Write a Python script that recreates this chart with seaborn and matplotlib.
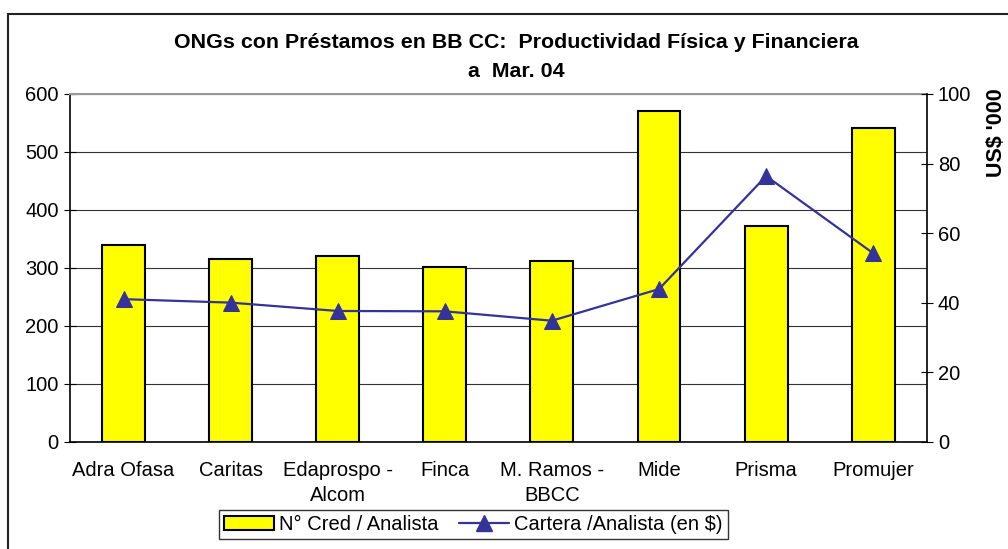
import numpy as np
import pandas as pd
import matplotlib.pyplot as plt
import seaborn as sns
from matplotlib.patches import Patch, Rectangle
from matplotlib.lines import Line2D

sns.set_style('white')
plt.rcParams['font.family'] = ['Liberation Sans', 'DejaVu Sans']
plt.rcParams['text.color'] = 'black'
plt.rcParams['xtick.color'] = 'black'
plt.rcParams['ytick.color'] = 'black'

# data
ongs = ['Adra Ofasa', 'Caritas', 'Edaprospo -\nAlcom', 'Finca', 'M. Ramos -\nBBCC',
        'Mide', 'Prisma', 'Promujer']
cred_analista = [340, 315, 321, 302, 311, 571, 372, 541]
cartera_analista = [41.0, 40.0, 37.6, 37.5, 34.8, 43.9, 76.4, 54.2]

df = pd.DataFrame({'ong': ongs, 'cred': cred_analista, 'cartera': cartera_analista})

fs = 14.5

fig = plt.figure(figsize=(10.08, 5.49), dpi=100)
ax = fig.add_axes([0.0694, 0.1954, 0.85, 0.6334])

sns.barplot(data=df, x='ong', y='cred', color='#FFFF00', width=0.4,
            edgecolor='black', linewidth=1.5, saturation=1, ax=ax, zorder=3)
ax.set_ylim(0, 600)
ax.set_xlim(-0.5, len(ongs) - 0.5)
ax.set_yticks(np.arange(0, 601, 100))
ax.yaxis.grid(True, color='#333333', linewidth=0.8)
ax.set_axisbelow(True)

# ticks at category boundaries, labels centred
ax.set_xticks(np.arange(-0.5, len(ongs), 1))
ax.set_xticklabels([])
ax.set_xticks(np.arange(len(ongs)), minor=True)
ax.set_xticklabels(ongs, minor=True, fontsize=fs, linespacing=1.4)
ax.tick_params(axis='x', which='minor', length=0, pad=14)
ax.tick_params(axis='x', which='major', direction='inout', length=8, width=0.8)
ax.tick_params(axis='y', direction='inout', length=8, width=0.8, labelsize=fs, pad=4)
ax.set_xlabel('')
ax.set_ylabel('')

for s in ['left', 'bottom']:
    ax.spines[s].set_color('black')
    ax.spines[s].set_linewidth(1.2)
ax.spines['top'].set_color('#999999')
ax.spines['top'].set_linewidth(1.5)
ax.spines['right'].set_visible(False)

ax2 = ax.twinx()
sns.lineplot(x=np.arange(len(ongs)), y=df['cartera'], ax=ax2, color='#333399',
             linewidth=1.6, marker='^', markersize=11, markeredgecolor='#333399', zorder=4)
ax2.set_ylim(0, 100)
ax2.set_yticks(np.arange(0, 101, 20))
ax2.tick_params(axis='y', direction='inout', length=8, width=0.8, labelsize=fs, pad=4)
ax2.set_ylabel('')
for s in ['left', 'top', 'bottom']:
    ax2.spines[s].set_visible(False)
ax2.spines['right'].set_color('black')
ax2.spines['right'].set_linewidth(1.2)

fig.text(0.9888, 0.7577, "US$ '000", rotation=90, ha='center', va='center',
         fontsize=15.5, fontweight='bold')

fig.text(0.5124, 0.9217, 'ONGs con Préstamos en BB CC:  Productividad Física y Financiera',
         ha='center', va='center', fontsize=15.4, fontweight='bold')
fig.text(0.5124, 0.869, 'a  Mar. 04', ha='center', va='center', fontsize=15.4, fontweight='bold')

handles = [Patch(facecolor='#FFFF00', edgecolor='black', linewidth=1.5),
           Line2D([], [], color='#333399', linewidth=1.6, marker='^', markersize=11)]
leg = fig.legend(handles, ['N° Cred / Analista', 'Cartera /Analista (en $)'],
                 loc='center', bbox_to_anchor=(0.4697, 0.0446), ncol=2, fontsize=fs,
                 frameon=True, fancybox=False, handlelength=2.5, handleheight=0.65,
                 handletextpad=0.25, columnspacing=1.0, borderpad=0.25, borderaxespad=0)
leg.get_frame().set_edgecolor('black')
leg.get_frame().set_linewidth(1.0)

# outer chart frame
fig.patches.append(Rectangle((8 / 1008, -0.02), 1.1, 1.02 - 14 / 549, transform=fig.transFigure,
                             fill=False, edgecolor='#222222', linewidth=1.5))

fig.savefig('out.png', dpi=100)
